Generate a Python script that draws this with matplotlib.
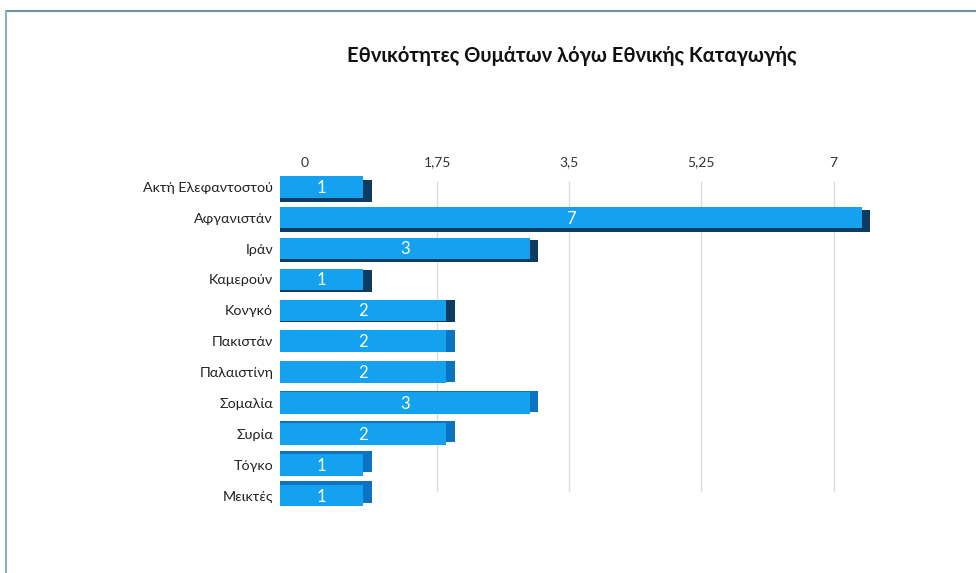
import matplotlib.pyplot as plt
import numpy as np

plt.rcParams['font.family'] = ['Lato', 'DejaVu Sans']

# data
countries = ['Ακτή Ελεφαντοστού', 'Αφγανιστάν', 'Ιράν', 'Καμερούν', 'Κονγκό',
             'Πακιστάν', 'Παλαιστίνη', 'Σομαλία', 'Συρία', 'Τόγκο', 'Μεικτές']
victims = [1, 7, 3, 1, 2, 2, 2, 3, 2, 1, 1]
ticks = [0, 1.75, 3.5, 5.25, 7]
tick_labels = ['0', '1,75', '3,5', '5,25', '7']

front = '#14a2f0'
side = '#0b74c2'
under = '#0d3c60'

fig = plt.figure(figsize=(9.76, 5.73), dpi=100)
ax = fig.add_axes([0.287, 0.108, 0.615, 0.593])

y = np.arange(len(countries))
n = len(countries)

# "back wall" axis for ticks and grid (perspective: narrower than the bars)
grid = ax.twiny()
ax.set_zorder(grid.get_zorder() + 1)
ax.patch.set_visible(False)
grid.set_xlim(-0.33, 7.62)
grid.set_xticks(ticks)
grid.set_xticklabels(tick_labels, fontsize=10, color='#333333')
grid.tick_params(axis='x', length=0, pad=2)
for t in ticks[1:]:
    grid.axvline(t, ymin=0.06, ymax=0.97, color='#dcdcdc', lw=1)
grid.set_yticks([])
for s in grid.spines.values():
    s.set_visible(False)

# 3D faces: offset darker bar behind the front face
dy = 0.14 * (n / 2 - 0.5 - y) / (n / 2)
back_col = [under if d > 0.02 else side for d in dy]
ax.barh(y + dy, np.array(victims) + 0.1, height=0.7, color=back_col, zorder=2)
bars = ax.barh(y, victims, height=0.7, color=front, zorder=3)

for b, v in zip(bars, victims):
    ax.text(b.get_x() + b.get_width() / 2, b.get_y() + b.get_height() / 2 + 0.03,
            str(v), ha='center', va='center', color='white', fontsize=12,
            zorder=4)

ax.set_xlim(0, 7.22)
ax.set_ylim(n - 0.5, -0.5)
ax.set_yticks(y)
ax.set_yticklabels(countries, fontsize=10.3, color='#222222')
ax.tick_params(axis='y', length=0, pad=5)
ax.set_xticks([])
for s in ax.spines.values():
    s.set_visible(False)

fig.text(0.586, 0.902, 'Εθνικότητες Θυμάτων λόγω Εθνικής Καταγωγής',
         ha='center', va='center', fontsize=14.5, fontweight='bold', color='#111111')

# outer frame lines (top and left)
fig.add_artist(plt.Line2D([0.006, 1], [0.981, 0.981], color='#6f8fa0', lw=1.5))
fig.add_artist(plt.Line2D([0.0065, 0.0065], [0, 0.981], color='#8fb0bc', lw=1.5))

fig.savefig('out.png', dpi=100)
